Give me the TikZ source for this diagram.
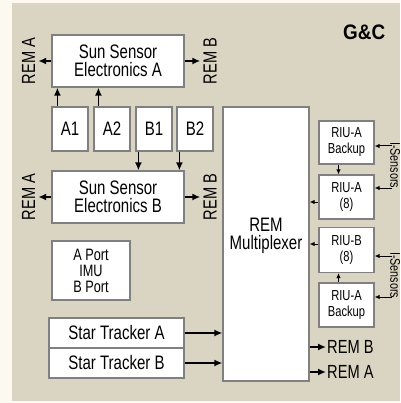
\documentclass[tikz,border=0pt]{standalone}
\usepackage{fontspec}
\setmainfont[FakeStretch=0.77]{Liberation Sans}
\newfontfamily\titlefont[FakeStretch=0.9]{Liberation Sans}
\usetikzlibrary{arrows.meta}
\definecolor{tanbg}{RGB}{218,213,194}
\definecolor{creambg}{RGB}{252,250,240}
\definecolor{boxgray}{RGB}{128,128,128}
\begin{document}
\begin{tikzpicture}[x=1pt,y=-1pt,
  box/.style={draw=boxgray,line width=1.2pt,fill=white,inner sep=0pt,align=center,font=\fontsize{19.5}{18.5}\selectfont},
  riu/.style={box,minimum width=55pt,font=\fontsize{14.5}{16}\selectfont},
  arr/.style={line width=1.8pt,-{Latex[length=8pt,width=7pt]}},
  sarr/.style={line width=1pt,-{Latex[length=5pt,width=4.5pt]}},
  lbl/.style={inner sep=0pt,font=\fontsize{19}{17}\selectfont},
  sens/.style={inner sep=0pt,rotate=-90,anchor=south west,font=\fontsize{14}{14}\selectfont}]
\useasboundingbox (0,0) rectangle (400,403);
\fill[creambg] (0,0) rectangle (400,403);
\fill[tanbg] (12,3) rectangle (400,401);

% title
\node[inner sep=0pt,anchor=base west,font=\titlefont\fontsize{21}{22}\selectfont\bfseries] (gc) at (343,40) {G\&C};

% sun sensor electronics
\node[box,minimum width=132pt,minimum height=52pt] (SA) at (118,61) {Sun Sensor\\Electronics A};
\node[box,minimum width=132pt,minimum height=52pt] (SB) at (118,197) {Sun Sensor\\Electronics B};
\node[box,minimum width=36pt,minimum height=44pt] (A1) at (70,129) {A1};
\node[box,minimum width=36pt,minimum height=44pt] (A2) at (112,129) {A2};
\node[box,minimum width=36pt,minimum height=44pt] (B1) at (154,129) {B1};
\node[box,minimum width=36pt,minimum height=44pt] (B2) at (195,129) {B2};

% REM side labels
\node[lbl,rotate=90] (remA1) at (28.5,61) {REM A};
\node[lbl,rotate=90] (remB1) at (210,61) {REM B};
\node[lbl,rotate=90] (remA2) at (28.5,197) {REM A};
\node[lbl,rotate=90] (remB2) at (210,197) {REM B};

% IMU
\node[box,minimum width=78pt,minimum height=59pt,font=\fontsize{16.5}{16}\selectfont] (IMU) at (91,270.5) {A Port\\IMU\\B Port};

% star trackers
\node[box,minimum width=135pt,minimum height=30pt] (STA) at (116.5,333) {Star Tracker A};
\node[box,minimum width=135pt,minimum height=30pt] (STB) at (116.5,363) {Star Tracker B};

% multiplexer
\node[box,minimum width=86pt,minimum height=274pt] (MUX) at (266,244) {};
\node[lbl,align=center,font=\fontsize{19.5}{18.5}\selectfont] (muxt) at (266,236) {REM\\Multiplexer};

% RIUs
\node[riu,minimum height=43pt] (RIU1) at (346.5,142.5) {RIU-A\\Backup};
\node[riu,minimum height=44pt] (RIU2) at (346.5,197) {RIU-A\\(8)};
\node[riu,minimum height=45pt] (RIU3) at (346.5,250) {RIU-B\\(8)};
\node[riu,minimum height=44pt] (RIU4) at (346.5,305) {RIU-A\\Backup};

% I-sensors
\node[sens] (is1) at (390,142) {I-Sensors};
\node[sens] (is2) at (390,252) {I-Sensors};
\coordinate (s1) at (392,146);
\coordinate (s2) at (392,188);
\coordinate (s3) at (392,256);
\coordinate (s4) at (392,297);
\draw[sarr] (s1) -- (s1 -| RIU1.east);
\draw[sarr] (s2) -- (s2 -| RIU2.east);
\draw[sarr] (s3) -- (s3 -| RIU3.east);
\draw[sarr] (s4) -- (s4 -| RIU4.east);

% RIU internal arrows
\draw[sarr] ([xshift=-8pt]RIU1.south) -- ([xshift=-8pt]RIU1.south |- RIU2.north);
\draw[sarr] ([xshift=-8pt]RIU4.north) -- ([xshift=-8pt]RIU4.north |- RIU3.south);
\draw[sarr] ([yshift=-5pt]RIU2.west) -- ([yshift=-5pt]RIU2.west -| MUX.east);
\draw[sarr] ([yshift=6pt]RIU3.west) -- ([yshift=6pt]RIU3.west -| MUX.east);

% sun sensor arrows
\draw[arr] ([xshift=6pt]A1.north west) -- ([xshift=6pt]A1.north west |- SA.south);
\draw[arr] ([xshift=5pt]A2.north west) -- ([xshift=5pt]A2.north west |- SA.south);
\draw[arr] ([xshift=3pt]B1.south west) -- ([xshift=3pt]B1.south west |- SB.north);
\draw[arr] ([xshift=3pt]B2.south west) -- ([xshift=3pt]B2.south west |- SB.north);
\draw[arr,shorten >=3pt] (SA.west) -- (remA1.south);
\draw[arr,shorten >=3pt] (SA.east) -- (remB1.north);
\draw[arr,shorten >=3pt] (SB.west) -- (remA2.south);
\draw[arr,shorten >=3pt] (SB.east) -- (remB2.north);

% star tracker arrows
\draw[arr] (STA.east) -- (STA.east -| MUX.west);
\draw[arr] (STB.east) -- (STB.east -| MUX.west);

% outputs
\node[lbl,anchor=west] (oB) at (327,347) {REM B};
\node[lbl,anchor=west] (oA) at (327,372) {REM A};
\draw[arr,shorten >=1pt] (MUX.east |- oB.west) -- (oB.west);
\draw[arr,shorten >=1pt] (MUX.east |- oA.west) -- (oA.west);
\end{tikzpicture}
\end{document}
